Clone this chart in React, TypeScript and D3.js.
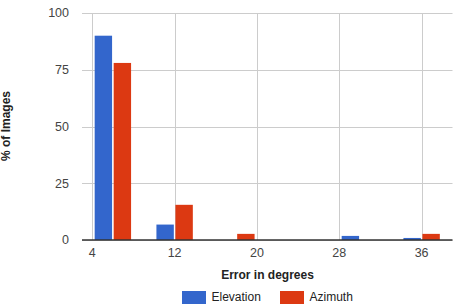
import React from "react";
import * as d3 from "d3";

const binCenters = [6, 12, 18, 24, 30, 36];
const elevation = [90, 6.8, 0, 0, 1.8, 0.9];
const azimuth = [78, 15.5, 2.7, 0, 0, 2.7];
const xTicks = [4, 12, 20, 28, 36];
const yTicks = [0, 25, 50, 75, 100];
const seriesNames = ["Elevation", "Azimuth"];
const colors = ["#3366cc", "#dc3912"];

export default function App() {
  const W = 476, H = 304;
  const x = d3.scaleLinear().domain([3, 39]).range([82, 452.5]);
  const y = d3.scaleLinear().domain([0, 100]).range([240, 13]);
  const barW = 17.4;
  const gap = 1.6;
  const font = "Arial, 'Liberation Sans', sans-serif";
  const series = [elevation, azimuth];
  return (
    <svg width={W} height={H} style={{ position: "absolute", left: 0, top: 0, background: "#fff" }} fontFamily={font}>
      {yTicks.map((t) => (
        <line key={"gy" + t} x1={82} x2={452.5} y1={Math.round(y(t)) + 0.5} y2={Math.round(y(t)) + 0.5} stroke="#cccccc" strokeWidth={1} />
      ))}
      {xTicks.map((t) => (
        <line key={"gx" + t} x1={Math.round(x(t)) + 0.5} x2={Math.round(x(t)) + 0.5} y1={13} y2={240} stroke="#cccccc" strokeWidth={1} />
      ))}
      {series.map((vals, si) =>
        vals.map((v, i) => {
          if (v <= 0) return null;
          const xc = x(binCenters[i]);
          const bx = si === 0 ? xc - gap / 2 - barW : xc + gap / 2;
          return (
            <rect key={si + "-" + i} x={bx} y={y(v)} width={barW} height={y(0) - y(v)} fill={colors[si]} />
          );
        })
      )}
      <line x1={82} x2={452.5} y1={240} y2={240} stroke="#333333" strokeWidth={1.5} />
      {yTicks.map((t) => (
        <text key={"ty" + t} x={69} y={y(t)} dy="0.35em" textAnchor="end" fontSize={12.5} fill="#444444">{t}</text>
      ))}
      {xTicks.map((t) => (
        <text key={"tx" + t} x={x(t)} y={257} textAnchor="middle" fontSize={12.5} fill="#444444">{t}</text>
      ))}
      <text x={267.5} y={279} textAnchor="middle" fontSize={12} fontWeight="bold" fill="#222222">Error in degrees</text>
      <text transform="translate(10,126) rotate(-90)" textAnchor="middle" fontSize={12} fontWeight="bold" fill="#222222">% of Images</text>
      {seriesNames.map((n, i) => {
        const sx = i === 0 ? 182 : 280;
        return (
          <g key={n}>
            <rect x={sx} y={291} width={24} height={13} fill={colors[i]} />
            <text x={sx + 29.5} y={301} fontSize={12} fill="#222222">{n}</text>
          </g>
        );
      })}
    </svg>
  );
}
